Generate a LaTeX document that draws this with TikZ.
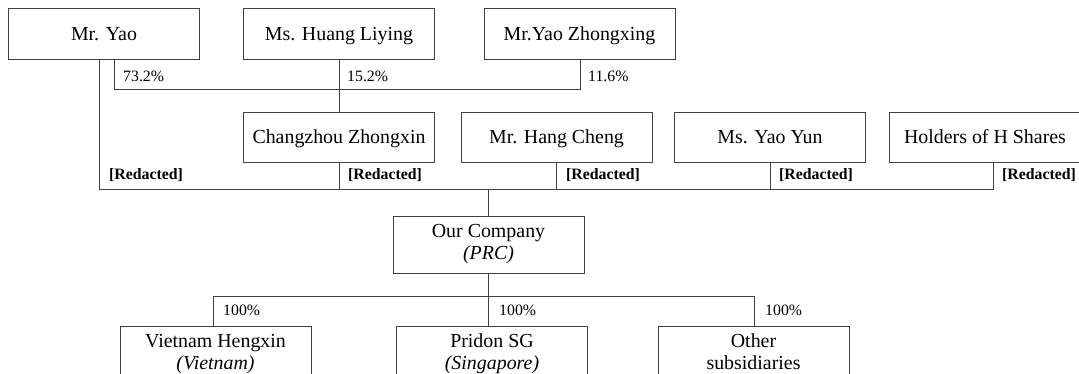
\documentclass[tikz,border=0pt]{standalone}
\usepackage{fontspec}
\setmainfont{Liberation Serif}
\begin{document}
\begin{tikzpicture}[x=1pt,y=-1pt,
  box/.style={draw=black!75, line width=0.8pt, minimum width=191pt, minimum height=51pt,
    inner sep=0pt, align=center, text height=18pt, text depth=5pt,
    font=\fontsize{19.9}{22}\selectfont},
  tallbox/.style={draw=black!75, line width=0.8pt, minimum width=191pt, minimum height=57pt,
    inner sep=0pt, align=center, font=\fontsize{19.9}{22}\selectfont},
  conn/.style={draw=black!75, line width=0.8pt},
  lab/.style={anchor=base west, inner sep=0pt, font=\fontsize{15.8}{18}\selectfont},
  red/.style={lab, font=\fontsize{15.8}{18}\selectfont\bfseries}]
\useasboundingbox (0,0) rectangle (1079,373);
\clip (0,0) rectangle (1079,373);
% top row
\node[box] (yao)   at (104,33.5)   {Mr. Yao};
\node[box] (huang) at (339,33.5)   {Ms. Huang Liying};
\node[box] (zhong) at (579.5,33.5) {Mr.Yao Zhongxing};
% second row
\node[box, minimum height=50pt] (chz)     at (339,137)   {Changzhou Zhongxin};
\node[box, minimum height=50pt] (hang)    at (556.5,137) {Mr. Hang Cheng};
\node[box, minimum height=50pt] (yun)     at (770,137)   {Ms. Yao Yun};
\node[box, minimum height=50pt] (holders) at (985,137)   {Holders of H Shares};
% company
\node[tallbox] (company) at (488.5,244.5) {\strut Our Company\\\strut\textit{(PRC)}};
% subsidiaries
\node[tallbox] (vietnam) at (215.5,354.5) {\strut Vietnam Hengxin\\\strut\textit{(Vietnam)}};
\node[tallbox] (pridon)  at (492,354.5)   {\strut Pridon SG\\\strut\textit{(Singapore)}};
\node[tallbox] (other)   at (753.5,354.5) {\strut Other\\\strut subsidiaries};
% junction coordinates
\coordinate (a1) at (114,89);
\coordinate (a3) at (580,89);
\coordinate (b1) at (99,189);
\coordinate (b5) at (993,189);
\coordinate (c1) at (213,296);
\coordinate (c3) at (754,296);
% Changzhou Zhongxin shareholders
\draw[conn] (yao.south -| a1) |- (a3) -- (zhong.south -| a3);
\draw[conn] (huang.south) -- (chz.north);
% company shareholders bus
\draw[conn] (yao.south -| b1) -- (b1) -- (b5) -- (holders.south -| b5);
\draw[conn] (chz.south) -- (chz.south |- b1);
\draw[conn] (hang.south) -- (hang.south |- b1);
\draw[conn] (yun.south) -- (yun.south |- b1);
\draw[conn] (b1 -| company.north) -- (company.north);
% subsidiaries bus
\draw[conn] (company.south) -- (company.south |- c1);
\draw[conn] (vietnam.north -| c1) -- (c1) -- (c3) -- (other.north -| c3);
\draw[conn] (company.south |- c1) -- (pridon.north -| company.south);
% labels
\node[lab] (p1) at (123,81) {73.2\%};
\node[lab] (p2) at (347,81) {15.2\%};
\node[lab] (p3) at (588,81) {11.6\%};
\node[red] (r1) at (109,179) {[Redacted]};
\node[red] (r2) at (348,179) {[Redacted]};
\node[red] (r3) at (566,179) {[Redacted]};
\node[red] (r4) at (779,179) {[Redacted]};
\node[red] (r5) at (1002,179) {[Redacted]};
\node[lab] (s1) at (223,315) {100\%};
\node[lab] (s2) at (499,315) {100\%};
\node[lab] (s3) at (765,315) {100\%};
\end{tikzpicture}
\end{document}
